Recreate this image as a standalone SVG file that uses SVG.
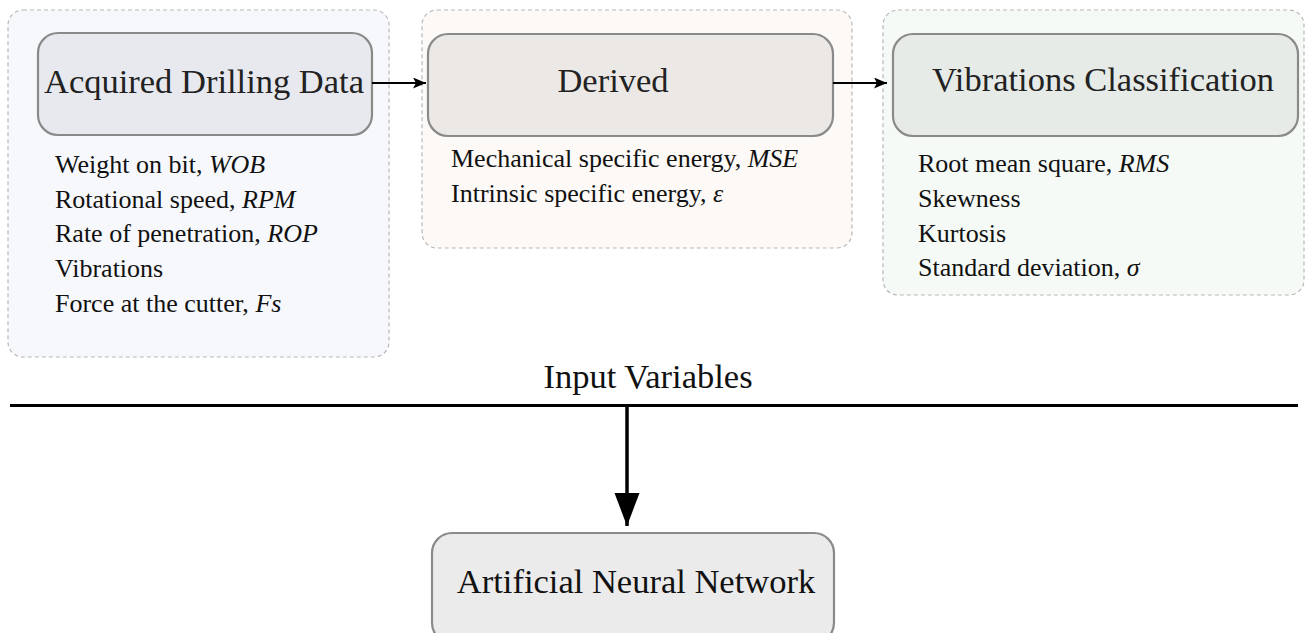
<svg xmlns="http://www.w3.org/2000/svg" width="1306" height="633" viewBox="0 0 1306 633">
<style>
.panel{stroke:#b8b8b8;stroke-width:1.2;stroke-dasharray:4 3}
.node{stroke:#8a8a8a;stroke-width:2.2}
.title{font-family:"Liberation Serif",serif;font-size:34.5px;fill:#222}
.item{font-family:"Liberation Serif",serif;font-size:26px;fill:#111}
.it{font-style:italic}
.conn{stroke:#000;fill:none}
</style>
<defs>
<marker id="ah" markerWidth="13" markerHeight="11" refX="13" refY="5.5" orient="auto" markerUnits="userSpaceOnUse">
<path d="M0,0 L13,5.5 L0,11 L3,5.5 Z" fill="#000"/>
</marker>
<marker id="ahBig" markerWidth="33" markerHeight="26" refX="33" refY="13" orient="auto" markerUnits="userSpaceOnUse">
<path d="M0,0.5 L33,13 L0,25.5 Z" fill="#000"/>
</marker>
</defs>
<rect width="1306" height="633" fill="#fff"/>
<g id="panel-acquired">
<rect class="panel" x="8" y="10" width="381" height="347" rx="15" fill="#f7f8fc"/>
</g>
<g id="panel-derived">
<rect class="panel" x="422" y="10" width="430" height="238" rx="15" fill="#fcf9f7"/>
</g>
<g id="panel-vibrations">
<rect class="panel" x="883" y="10" width="421" height="285" rx="15" fill="#f5faf7"/>
</g>
<g id="acquired">
<rect class="node" x="38" y="33" width="334" height="102" rx="20" fill="#e8e9ee"/>
<text class="title" x="204" y="93" text-anchor="middle">Acquired Drilling Data</text>
<text class="item" x="55" y="173">Weight on bit, <tspan class="it">WOB</tspan></text>
<text class="item" x="55" y="208">Rotational speed, <tspan class="it">RPM</tspan></text>
<text class="item" x="55" y="242">Rate of penetration, <tspan class="it">ROP</tspan></text>
<text class="item" x="55" y="277">Vibrations</text>
<text class="item" x="55" y="312">Force at the cutter, <tspan class="it">Fs</tspan></text>
</g>
<g id="derived">
<rect class="node" x="428" y="34" width="405" height="102" rx="20" fill="#ece8e6"/>
<text class="title" x="613" y="92" text-anchor="middle">Derived</text>
<text class="item" x="451" y="167">Mechanical specific energy, <tspan class="it">MSE</tspan></text>
<text class="item" x="451" y="202">Intrinsic specific energy, <tspan class="it">ε</tspan></text>
</g>
<g id="vibrations">
<rect class="node" x="893" y="34" width="405" height="102" rx="20" fill="#e6ebe8"/>
<text class="title" x="1103" y="91" text-anchor="middle">Vibrations Classification</text>
<text class="item" x="918" y="172">Root mean square, <tspan class="it">RMS</tspan></text>
<text class="item" x="918" y="207">Skewness</text>
<text class="item" x="918" y="242">Kurtosis</text>
<text class="item" x="918" y="276">Standard deviation, <tspan class="it">σ</tspan></text>
</g>
<g id="input-variables">
<text class="title" x="648" y="388" text-anchor="middle" style="fill:#111">Input Variables</text>
<line x1="10" y1="405.5" x2="1298" y2="405.5" stroke="#000" stroke-width="3"/>
</g>
<g id="ann">
<rect class="node" x="432" y="533" width="402" height="110" rx="20" fill="#ebebeb"/>
<text class="title" x="636" y="593" text-anchor="middle" style="fill:#111">Artificial Neural Network</text>
</g>
<g id="connectors">
<line class="conn" x1="372" y1="83" x2="426" y2="83" stroke-width="2" marker-end="url(#ah)"/>
<line class="conn" x1="833" y1="83" x2="887" y2="83" stroke-width="2" marker-end="url(#ah)"/>
<line class="conn" x1="627" y1="406" x2="627" y2="526" stroke-width="3.5" marker-end="url(#ahBig)"/>
</g>
</svg>
